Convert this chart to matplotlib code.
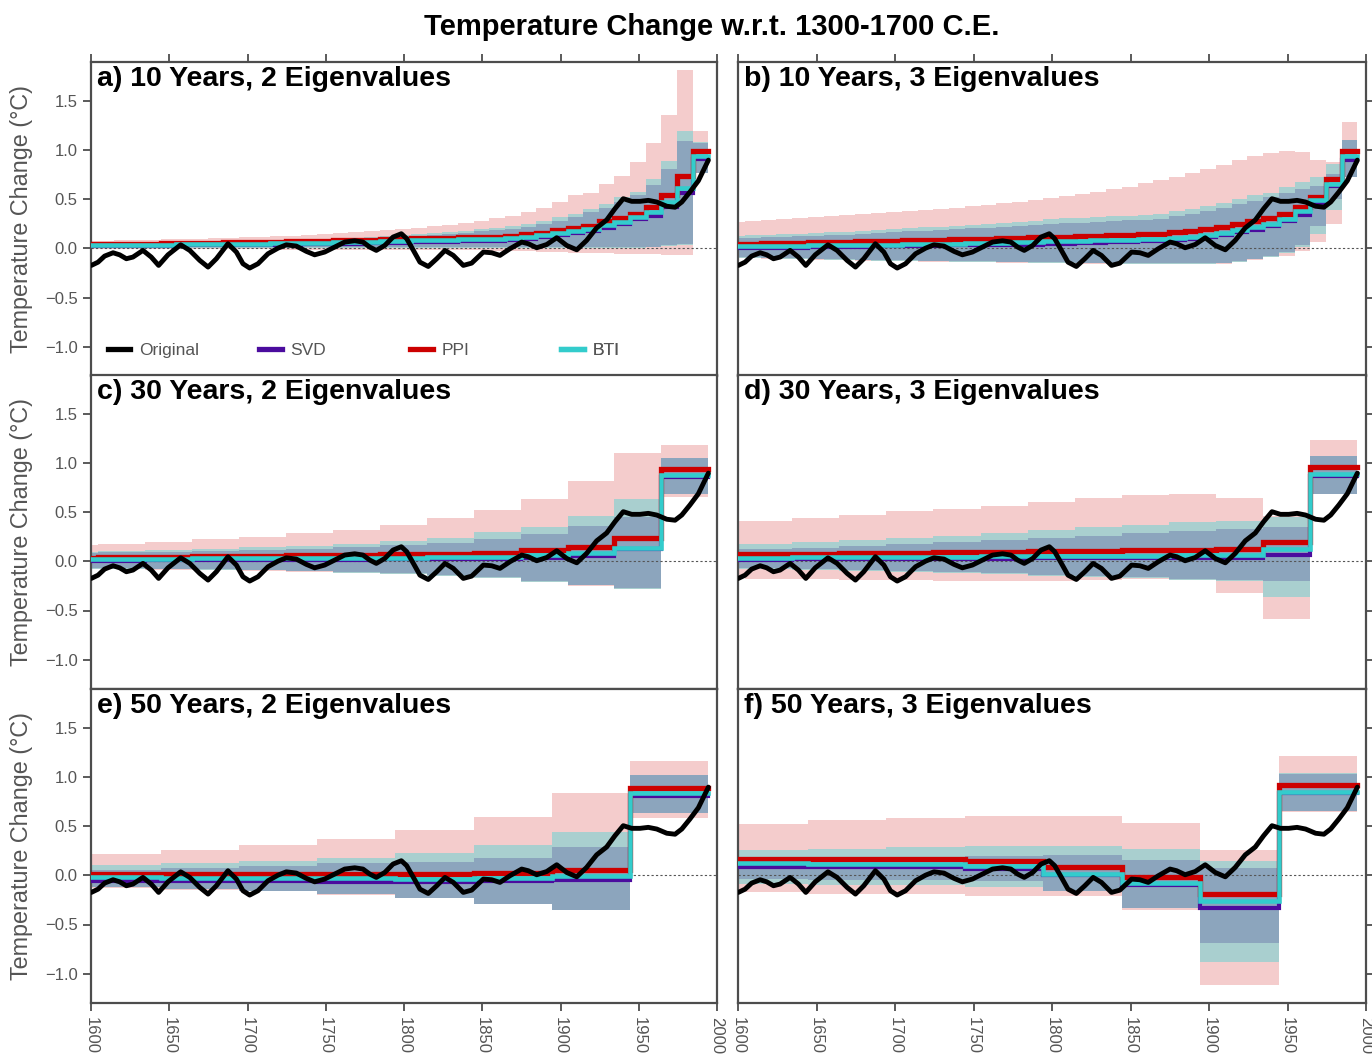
import numpy as np
import matplotlib.pyplot as plt
from matplotlib.lines import Line2D

plt.rcParams['font.family'] = ['Liberation Sans', 'DejaVu Sans']

# smoothed original reconstruction (same in every panel)
orig_year = [1600.2, 1604.5, 1608.7, 1614.1, 1618.3, 1622.6, 1626.8, 1633.2, 1638.5, 1643.2,
             1649.2, 1657.3, 1663.1, 1669.5, 1674.8, 1680.1, 1687.5, 1692.9, 1697.1, 1701.4,
             1706.7, 1713.1, 1719.5, 1724.8, 1731.2, 1737.6, 1742.9, 1749.3, 1755.7, 1762.1,
             1768.5, 1773.8, 1778.1, 1782.3, 1787.7, 1793.0, 1798.3, 1801.7, 1806.0, 1810.2,
             1815.5, 1820.9, 1826.2, 1831.5, 1837.9, 1843.2, 1850.7, 1856.0, 1861.3, 1867.7,
             1875.2, 1879.4, 1884.8, 1891.2, 1897.6, 1904.0, 1910.4, 1916.7, 1923.1, 1929.5,
             1934.8, 1940.1, 1945.5, 1950.8, 1956.1, 1961.5, 1967.9, 1973.2, 1977.5, 1982.7,
             1988.1, 1994.5]
orig_temp = [-0.173, -0.14, -0.078, -0.044, -0.065, -0.105, -0.088, -0.02, -0.088, -0.173,
             -0.065, 0.037, -0.02, -0.122, -0.19, -0.105, 0.048, -0.037, -0.156, -0.2,
             -0.156, -0.054, 0.003, 0.037, 0.024, -0.03, -0.065, -0.037, 0.014, 0.065,
             0.078, 0.065, 0.014, -0.02, 0.03, 0.116, 0.15, 0.10, -0.02, -0.14,
             -0.184, -0.105, -0.02, -0.071, -0.173, -0.15, -0.037, -0.044, -0.071, -0.003,
             0.065, 0.048, 0.007, 0.04, 0.109, 0.03, -0.014, 0.082, 0.21, 0.29,
             0.405, 0.507, 0.48, 0.48, 0.49, 0.473, 0.43, 0.42, 0.473, 0.575,
             0.69, 0.90]

# window edges (10, 30 and 50 year blocks ending in 1994)
edges_10 = np.arange(1594.5, 1995, 10)
edges_30 = np.arange(1574.5, 1995, 30)
edges_50 = np.arange(1594.5, 1995, 50)

# ---- a) 10 years, 2 eigenvalues
a_ppi_hi = [0.08, 0.08, 0.09, 0.09, 0.09, 0.10, 0.10, 0.10, 0.11, 0.11, 0.12, 0.12, 0.13, 0.13,
            0.14, 0.15, 0.16, 0.17, 0.18, 0.19, 0.20, 0.21, 0.23, 0.24, 0.26, 0.28, 0.31,
            0.33, 0.37, 0.41, 0.47, 0.54, 0.57, 0.66, 0.74, 0.88, 1.07, 1.36, 1.82, 1.20]
a_ppi_lo = [-0.01, -0.01, -0.01, -0.01, -0.01, -0.01, -0.01, -0.01, -0.01, -0.01, -0.01, -0.01,
            -0.015, -0.015, -0.015, -0.015, -0.015, -0.015, -0.015, -0.02, -0.02, -0.02, -0.02,
            -0.02, -0.02, -0.02, -0.025, -0.025, -0.03, -0.035, -0.04, -0.045, -0.045, -0.05,
            -0.055, -0.055, -0.06, -0.065, -0.065, 0.77]
a_bti_hi = [0.05, 0.05, 0.05, 0.06, 0.06, 0.06, 0.07, 0.07, 0.07, 0.08, 0.08, 0.08, 0.09, 0.09,
            0.10, 0.10, 0.11, 0.11, 0.12, 0.13, 0.14, 0.15, 0.16, 0.17, 0.18, 0.20, 0.21,
            0.23, 0.25, 0.28, 0.32, 0.35, 0.40, 0.45, 0.52, 0.58, 0.71, 0.89, 1.20, 1.08]
a_bti_lo = [0.005, 0.005, 0.005, 0.005, 0.005, 0.005, 0.005, 0.005, 0.005, 0.005, 0.005, 0.005,
            0.005, 0.005, 0.005, 0.005, 0.005, 0.005, 0.005, 0.005, 0.005, 0.005, 0.005, 0.005,
            0.005, 0.005, 0.005, 0.005, 0.005, 0.0, 0.0, 0.0, 0.0, 0.0, 0.0, 0.0, 0.01, 0.02,
            0.04, 0.77]
a_svd_hi = [0.045, 0.045, 0.045, 0.05, 0.05, 0.05, 0.06, 0.06, 0.06, 0.07, 0.07, 0.07, 0.08, 0.08,
            0.09, 0.09, 0.10, 0.10, 0.11, 0.12, 0.13, 0.13, 0.14, 0.15, 0.16, 0.18, 0.19,
            0.20, 0.22, 0.25, 0.28, 0.32, 0.37, 0.41, 0.47, 0.54, 0.65, 0.81, 1.09, 1.07]
a_svd_lo = [0.01, 0.01, 0.01, 0.01, 0.01, 0.01, 0.01, 0.01, 0.01, 0.01, 0.01, 0.01, 0.01, 0.01,
            0.01, 0.01, 0.01, 0.01, 0.01, 0.01, 0.01, 0.01, 0.01, 0.01, 0.01, 0.01, 0.01,
            0.01, 0.01, 0.01, 0.01, 0.01, 0.01, 0.01, 0.01, 0.01, 0.015, 0.03, 0.044, 0.77]
a_ppi = [0.05, 0.05, 0.05, 0.05, 0.05, 0.06, 0.06, 0.06, 0.06, 0.07, 0.07, 0.07, 0.07, 0.08,
         0.08, 0.08, 0.09, 0.09, 0.09, 0.10, 0.10, 0.11, 0.11, 0.11, 0.12, 0.12, 0.12,
         0.13, 0.146, 0.16, 0.19, 0.21, 0.23, 0.28, 0.31, 0.35, 0.42, 0.54, 0.74, 0.99]
a_bti = [0.035, 0.035, 0.035, 0.04, 0.04, 0.04, 0.045, 0.045, 0.045, 0.05, 0.05, 0.05, 0.055,
         0.055, 0.06, 0.06, 0.065, 0.065, 0.07, 0.075, 0.08, 0.085, 0.09, 0.09, 0.095, 0.10, 0.10,
         0.105, 0.12, 0.14, 0.16, 0.18, 0.20, 0.24, 0.27, 0.32, 0.37, 0.47, 0.62, 0.94]
a_svd = [0.02, 0.02, 0.02, 0.025, 0.025, 0.025, 0.03, 0.03, 0.03, 0.035, 0.035, 0.035, 0.04,
         0.04, 0.045, 0.045, 0.05, 0.05, 0.055, 0.06, 0.06, 0.065, 0.07, 0.07, 0.075, 0.08, 0.08,
         0.085, 0.10, 0.12, 0.14, 0.16, 0.18, 0.21, 0.25, 0.30, 0.33, 0.42, 0.57, 0.91]

# ---- b) 10 years, 3 eigenvalues
b_ppi_hi = [0.27, 0.28, 0.29, 0.30, 0.31, 0.32, 0.33, 0.34, 0.35, 0.36, 0.37, 0.38, 0.39, 0.40,
            0.41, 0.43, 0.44, 0.46, 0.47, 0.49, 0.51, 0.53, 0.55, 0.58, 0.61, 0.63, 0.67,
            0.70, 0.73, 0.77, 0.81, 0.85, 0.90, 0.94, 0.97, 0.99, 0.98, 0.90, 0.88, 1.29]
b_ppi_lo = [-0.10, -0.10, -0.105, -0.11, -0.11, -0.115, -0.12, -0.12, -0.125, -0.13, -0.13,
            -0.13, -0.135, -0.135, -0.14, -0.14, -0.14, -0.145, -0.145, -0.15, -0.15, -0.15,
            -0.155, -0.155, -0.16, -0.16, -0.16,
            -0.16, -0.16, -0.16, -0.16, -0.155, -0.14, -0.115, -0.09, -0.08, -0.03, 0.065, 0.25, 0.73]
b_bti_hi = [0.13, 0.14, 0.14, 0.15, 0.15, 0.16, 0.17, 0.17, 0.18, 0.19, 0.20, 0.21, 0.22, 0.22,
            0.23, 0.24, 0.25, 0.26, 0.27, 0.28, 0.30, 0.31, 0.31, 0.32, 0.33, 0.33, 0.34,
            0.35, 0.38, 0.40, 0.43, 0.46, 0.50, 0.54, 0.57, 0.63, 0.68, 0.73, 0.86, 1.11]
b_bti_lo = [-0.095, -0.095, -0.10, -0.105, -0.105, -0.11, -0.115, -0.115, -0.12, -0.125, -0.125,
            -0.125, -0.13, -0.13, -0.135, -0.135, -0.135, -0.14, -0.14, -0.145, -0.145, -0.145,
            -0.15, -0.15, -0.155, -0.155, -0.155,
            -0.155, -0.155, -0.155, -0.155, -0.15, -0.135, -0.11, -0.085, -0.05, 0.01, 0.15, 0.39, 0.73]
b_svd_hi = [0.11, 0.11, 0.12, 0.12, 0.13, 0.13, 0.14, 0.14, 0.15, 0.16, 0.17, 0.18, 0.18, 0.19,
            0.20, 0.21, 0.21, 0.22, 0.23, 0.24, 0.25, 0.26, 0.26, 0.27, 0.28, 0.29, 0.29,
            0.30, 0.33, 0.35, 0.38, 0.41, 0.45, 0.48, 0.52, 0.56, 0.61, 0.64, 0.76, 1.11]
b_svd_lo = [-0.09, -0.09, -0.095, -0.10, -0.10, -0.105, -0.11, -0.11, -0.115, -0.12, -0.12,
            -0.12, -0.125, -0.125, -0.13, -0.13, -0.13, -0.135, -0.135, -0.14, -0.14, -0.14,
            -0.145, -0.145, -0.15, -0.15, -0.15,
            -0.15, -0.15, -0.15, -0.15, -0.145, -0.13, -0.105, -0.08, -0.04, 0.04, 0.23, 0.50, 0.73]
b_ppi = [0.05, 0.05, 0.055, 0.06, 0.06, 0.065, 0.07, 0.07, 0.075, 0.08, 0.08, 0.085, 0.09, 0.09,
         0.095, 0.10, 0.10, 0.105, 0.11, 0.115, 0.12, 0.12, 0.125, 0.13, 0.135, 0.14, 0.145,
         0.15, 0.165, 0.18, 0.20, 0.22, 0.245, 0.28, 0.31, 0.35, 0.42, 0.52, 0.71, 0.99]
b_bti = [0.02, 0.02, 0.02, 0.025, 0.025, 0.03, 0.03, 0.035, 0.035, 0.04, 0.04, 0.045, 0.045,
         0.05, 0.05, 0.055, 0.06, 0.06, 0.065, 0.07, 0.075, 0.08, 0.08, 0.085, 0.09, 0.09, 0.095,
         0.10, 0.11, 0.12, 0.14, 0.16, 0.19, 0.22, 0.25, 0.30, 0.38, 0.49, 0.66, 0.94]
b_svd = [0.0, 0.0, 0.0, 0.005, 0.005, 0.01, 0.01, 0.015, 0.015, 0.02, 0.02, 0.02, 0.025, 0.025,
         0.03, 0.03, 0.035, 0.035, 0.04, 0.04, 0.045, 0.05, 0.055, 0.06, 0.065, 0.07, 0.075,
         0.08, 0.09, 0.10, 0.12, 0.14, 0.17, 0.19, 0.23, 0.28, 0.34, 0.46, 0.64, 0.90]

# ---- c) 30 years, 2 eigenvalues
c_ppi_hi = [0.17, 0.18, 0.20, 0.23, 0.25, 0.29, 0.32, 0.37, 0.44, 0.52, 0.64, 0.82, 1.11, 1.19]
c_ppi_lo = [-0.08, -0.08, -0.085, -0.09, -0.095, -0.105, -0.12, -0.13, -0.15, -0.17, -0.21, -0.25, -0.285, 0.66]
c_bti_hi = [0.10, 0.11, 0.12, 0.13, 0.15, 0.16, 0.18, 0.21, 0.24, 0.30, 0.35, 0.46, 0.64, 1.05]
c_bti_lo = [-0.075, -0.075, -0.08, -0.085, -0.09, -0.10, -0.115, -0.125, -0.145, -0.165, -0.205, -0.245, -0.28, 0.69]
c_svd_hi = [0.09, 0.095, 0.10, 0.11, 0.12, 0.13, 0.15, 0.17, 0.19, 0.23, 0.28, 0.36, 0.45, 1.05]
c_svd_lo = [-0.07, -0.07, -0.075, -0.08, -0.085, -0.095, -0.11, -0.12, -0.14, -0.16, -0.20, -0.24, -0.275, 0.69]
c_ppi = [0.04, 0.045, 0.05, 0.055, 0.06, 0.065, 0.07, 0.075, 0.08, 0.09, 0.115, 0.15, 0.24, 0.94]
c_bti = [0.02, 0.02, 0.025, 0.03, 0.03, 0.035, 0.035, 0.04, 0.045, 0.05, 0.065, 0.09, 0.14, 0.88]
c_svd = [0.005, 0.005, 0.01, 0.01, 0.01, 0.015, 0.015, 0.02, 0.02, 0.025, 0.03, 0.06, 0.125, 0.86]

# ---- d) 30 years, 3 eigenvalues
d_ppi_hi = [0.41, 0.41, 0.44, 0.47, 0.51, 0.53, 0.57, 0.61, 0.65, 0.68, 0.69, 0.65, 0.46, 1.24]
d_ppi_lo = [-0.17, -0.18, -0.18, -0.19, -0.19, -0.20, -0.20, -0.20, -0.19, -0.18, -0.19, -0.32, -0.59, 0.69]
d_bti_hi = [0.18, 0.18, 0.20, 0.22, 0.235, 0.26, 0.29, 0.32, 0.35, 0.37, 0.40, 0.415, 0.45, 1.07]
d_bti_lo = [-0.08, -0.08, -0.09, -0.10, -0.11, -0.12, -0.13, -0.145, -0.16, -0.17, -0.19, -0.20, -0.36, 0.69]
d_svd_hi = [0.13, 0.13, 0.14, 0.16, 0.18, 0.20, 0.22, 0.24, 0.26, 0.285, 0.31, 0.33, 0.35, 1.07]
d_svd_lo = [-0.07, -0.07, -0.08, -0.09, -0.10, -0.11, -0.12, -0.135, -0.15, -0.16, -0.18, -0.19, -0.20, 0.69]
d_ppi = [0.075, 0.075, 0.08, 0.085, 0.09, 0.095, 0.10, 0.105, 0.11, 0.115, 0.12, 0.125, 0.20, 0.96]
d_bti = [0.04, 0.04, 0.045, 0.045, 0.05, 0.05, 0.055, 0.055, 0.06, 0.06, 0.065, 0.07, 0.125, 0.89]
d_svd = [0.015, 0.015, 0.02, 0.02, 0.02, 0.025, 0.025, 0.03, 0.03, 0.035, 0.035, 0.04, 0.07, 0.87]

# ---- e) 50 years, 2 eigenvalues
e_ppi_hi = [0.22, 0.255, 0.31, 0.37, 0.46, 0.60, 0.84, 1.17]
e_ppi_lo = [-0.125, -0.145, -0.16, -0.195, -0.235, -0.295, -0.355, 0.59]
e_bti_hi = [0.11, 0.126, 0.15, 0.18, 0.23, 0.31, 0.44, 1.02]
e_bti_lo = [-0.12, -0.14, -0.155, -0.19, -0.23, -0.29, -0.35, 0.64]
e_svd_hi = [0.058, 0.075, 0.10, 0.13, 0.14, 0.18, 0.29, 1.02]
e_svd_lo = [-0.12, -0.14, -0.155, -0.19, -0.23, -0.29, -0.35, 0.64]
e_ppi = [0.015, 0.01, 0.01, 0.01, 0.01, 0.025, 0.06, 0.89]
e_bti = [-0.02, -0.025, -0.03, -0.03, -0.035, -0.03, -0.01, 0.84]
e_svd = [-0.055, -0.055, -0.06, -0.065, -0.068, -0.055, -0.045, 0.81]

# ---- f) 50 years, 3 eigenvalues
f_ppi_hi = [0.52, 0.56, 0.585, 0.61, 0.61, 0.53, 0.26, 1.22]
f_ppi_lo = [-0.17, -0.19, -0.19, -0.21, -0.21, -0.35, -1.12, 0.65]
f_bti_hi = [0.255, 0.27, 0.285, 0.30, 0.30, 0.27, 0.15, 1.04]
f_bti_lo = [-0.09, -0.10, -0.10, -0.12, -0.16, -0.33, -0.88, 0.66]
f_svd_hi = [0.18, 0.18, 0.19, 0.20, 0.21, 0.16, 0.08, 1.03]
f_svd_lo = [-0.04, -0.05, -0.05, -0.06, -0.16, -0.33, -0.69, 0.66]
f_ppi = [0.167, 0.17, 0.167, 0.143, 0.09, -0.02, -0.19, 0.925]
f_bti = [0.126, 0.12, 0.115, 0.10, 0.017, -0.08, -0.265, 0.85]
f_svd = [0.09, 0.09, 0.085, 0.065, 0.007, -0.095, -0.33, 0.84]

panels = [
    ("a) 10 Years, 2 Eigenvalues", edges_10, a_ppi_hi, a_ppi_lo, a_bti_hi, a_bti_lo, a_svd_hi, a_svd_lo, a_svd, a_ppi, a_bti),
    ("b) 10 Years, 3 Eigenvalues", edges_10, b_ppi_hi, b_ppi_lo, b_bti_hi, b_bti_lo, b_svd_hi, b_svd_lo, b_svd, b_ppi, b_bti),
    ("c) 30 Years, 2 Eigenvalues", edges_30, c_ppi_hi, c_ppi_lo, c_bti_hi, c_bti_lo, c_svd_hi, c_svd_lo, c_svd, c_ppi, c_bti),
    ("d) 30 Years, 3 Eigenvalues", edges_30, d_ppi_hi, d_ppi_lo, d_bti_hi, d_bti_lo, d_svd_hi, d_svd_lo, d_svd, d_ppi, d_bti),
    ("e) 50 Years, 2 Eigenvalues", edges_50, e_ppi_hi, e_ppi_lo, e_bti_hi, e_bti_lo, e_svd_hi, e_svd_lo, e_svd, e_ppi, e_bti),
    ("f) 50 Years, 3 Eigenvalues", edges_50, f_ppi_hi, f_ppi_lo, f_bti_hi, f_bti_lo, f_svd_hi, f_svd_lo, f_svd, f_ppi, f_bti),
]

C_PPI_BAND = "#F4CCCC"
C_BTI_BAND = "#A9CFCF"
C_SVD_BAND = "#8CA5BD"
C_SVD = "#4B0C9E"
C_PPI = "#CC0000"
C_BTI = "#33CCCC"
C_AX = "#4d4d4d"
C_TXT = "#555555"

W, H = 1372, 1056
fig = plt.figure(figsize=(W / 100, H / 100), dpi=100)
col_x = [91, 738]
col_w = [626, 628]
row_top = [62, 375, 689]
row_h = 314


def step_line(ax, edges, vals, **kw):
    # stepped line across the windows, last value held to the final edge
    ax.plot(edges, np.append(vals, vals[-1]), drawstyle="steps-post",
            solid_joinstyle="miter", **kw)


for i, (title, edges, ppi_hi, ppi_lo, bti_hi, bti_lo, svd_hi, svd_lo, svd, ppi, bti) in enumerate(panels):
    row, col = divmod(i, 2)
    ax = fig.add_axes([col_x[col] / W, 1 - (row_top[row] + row_h) / H, col_w[col] / W, row_h / H])

    ax.stairs(ppi_hi, edges, baseline=ppi_lo, fill=True, color=C_PPI_BAND, lw=0, zorder=1)
    ax.stairs(bti_hi, edges, baseline=bti_lo, fill=True, color=C_BTI_BAND, lw=0, zorder=1.1)
    ax.stairs(svd_hi, edges, baseline=svd_lo, fill=True, color=C_SVD_BAND, lw=0, zorder=1.2)
    ax.axhline(0, color="#555555", lw=0.8, ls=(0, (2, 2)), zorder=2)
    step_line(ax, edges, svd, color=C_SVD, lw=3.0, zorder=3)
    step_line(ax, edges, ppi, color=C_PPI, lw=3.8, zorder=3.1)
    step_line(ax, edges, bti, color=C_BTI, lw=3.3, zorder=3.2)
    ax.plot(orig_year, orig_temp, color="black", lw=3.5, zorder=4,
            solid_capstyle="round", solid_joinstyle="round")

    ax.set_xlim(1600, 2000)
    ax.set_ylim(-1.3, 1.9)
    ax.set_xticks(range(1600, 2001, 50))
    ax.set_yticks([-1.0, -0.5, 0.0, 0.5, 1.0, 1.5])
    for sp in ax.spines.values():
        sp.set_color(C_AX)
        sp.set_linewidth(1.6)
    ax.tick_params(direction="out", length=6, width=1.3, color=C_AX,
                   labelcolor=C_TXT, labelsize=12)
    ax.tick_params(axis="y", left=(col == 0), right=(col == 1), labelleft=(col == 0))
    ax.tick_params(axis="x", top=(row == 0), bottom=(row == 2),
                   labelbottom=(row == 2), labelrotation=-90, pad=4)
    if col == 0:
        ax.set_ylabel("Temperature Change (°C)", fontsize=16.8, color=C_TXT)
        ax.yaxis.set_label_coords(-0.092, 0.5)

    ax.text(0.009, 0.987, title, transform=ax.transAxes, ha="left", va="top",
            fontsize=20.5, fontweight="bold", zorder=6)

    if i == 0:
        names = ["Original", "SVD", "PPI", "BTI"]
        cols = ["black", C_SVD, C_PPI, C_BTI]
        for k, (nm, cc) in enumerate(zip(names, cols)):
            leg = ax.legend([Line2D([], [], color=cc, lw=3.8)], [nm], loc="center left",
                            bbox_to_anchor=(0.027 + 0.2415 * k, 0.08), frameon=False,
                            fontsize=12.5, handlelength=1.3, handletextpad=0.5,
                            borderpad=0, borderaxespad=0, labelcolor=C_TXT)
            ax.add_artist(leg)

fig.text(712 / W, 1 - 27 / H, "Temperature Change w.r.t. 1300-1700 C.E.",
         ha="center", va="center", fontsize=21, fontweight="bold")

fig.savefig("out.png", dpi=100)
